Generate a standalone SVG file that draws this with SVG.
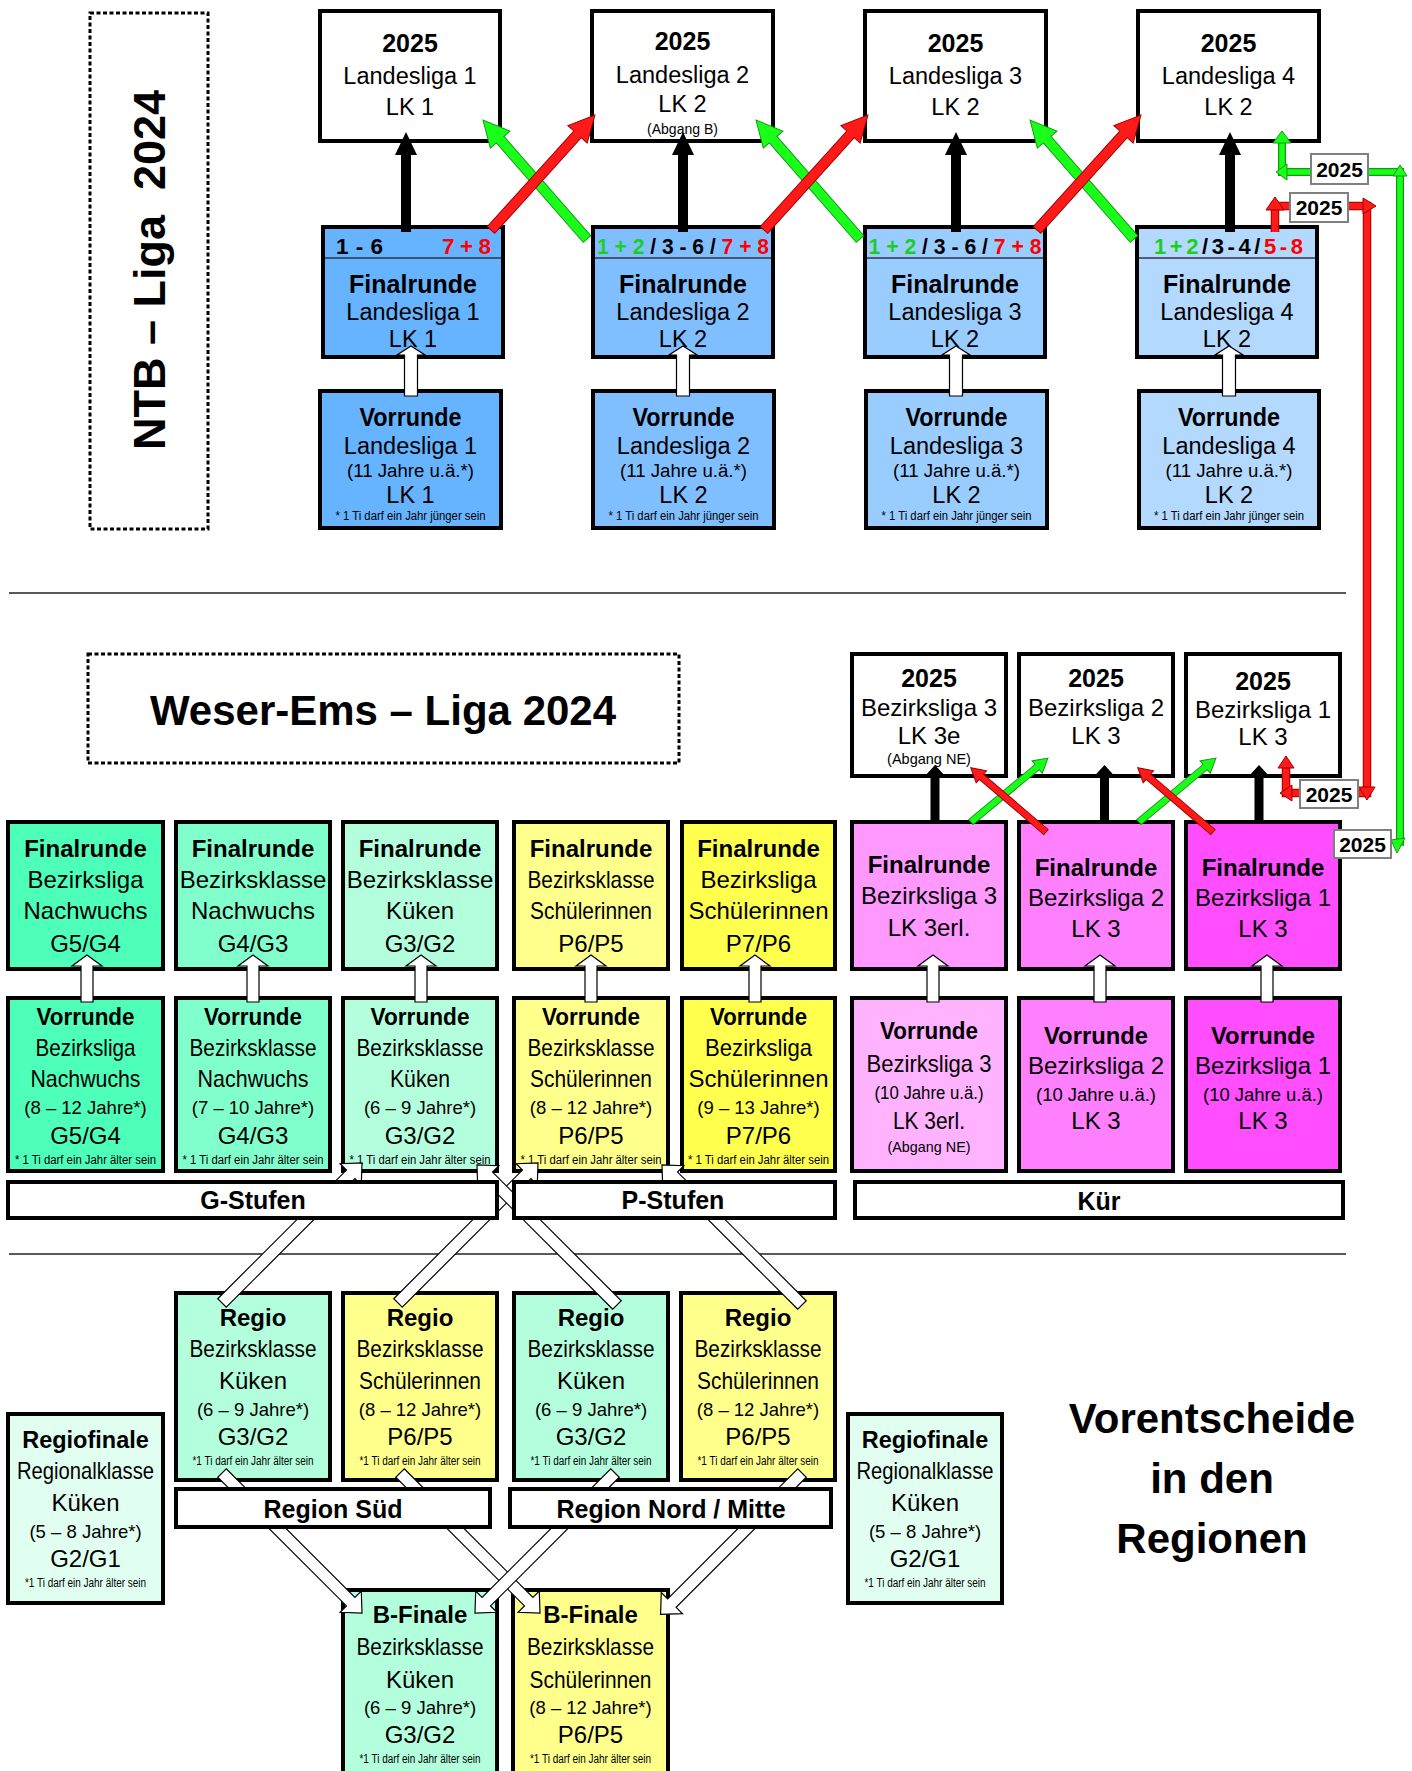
<svg xmlns="http://www.w3.org/2000/svg" width="1412" height="1771" viewBox="0 0 1412 1771">
<style>
text{font-family:"Liberation Sans",Arial,Helvetica,sans-serif;text-anchor:middle}
.b{font-weight:bold}
.l{text-anchor:start}
.r{text-anchor:end}
.red{fill:#ff0000}
.grn{fill:#1ccf1c}
.bx{stroke:#000;stroke-width:4}
.dot{fill:none;stroke:#000;stroke-width:3;stroke-dasharray:4 2.5}
.wa{fill:#fff;stroke:#000;stroke-width:1.2}
.ka{fill:#000}
.ga{fill:#1aff1a;stroke:#139a13;stroke-width:1}
.ra{fill:#ff1a1a;stroke:#a00000;stroke-width:1}
.lbl{fill:#fff;stroke:#808080;stroke-width:2}
.sep{stroke:#222;stroke-width:1.5}
.gl{fill:none;stroke:#139a13;stroke-width:8}
.gi{fill:none;stroke:#1aff1a;stroke-width:5.5}
.rl{fill:none;stroke:#a00000;stroke-width:8.5}
.ri{fill:none;stroke:#ff1a1a;stroke-width:6.5}
</style>

<!-- separators and titles -->
<g id="titles">
<line class="sep" x1="9" y1="593" x2="1346" y2="593"/>
<line class="sep" x1="9" y1="1254" x2="1346" y2="1254"/>
</g>
<g id="ntb-title">
<rect class="dot" x="90" y="13" width="118" height="516"/>
<text transform="translate(165,270) rotate(-90)" class="b" font-size="45">NTB – Liga&#160; 2024</text>
</g>
<g id="weser-ems-title">
<rect class="dot" x="88" y="654" width="591" height="109"/>
<text x="383" y="725" class="b" font-size="42">Weser-Ems – Liga 2024</text>
</g>
<g id="vorentscheide-title">
<text x="1212" y="1433" class="b" font-size="42">Vorentscheide</text>
<text x="1212" y="1493" class="b" font-size="42">in den</text>
<text x="1212" y="1553" class="b" font-size="42">Regionen</text>
</g>

<!-- NTB top row -->
<g id="ll1-2025"><rect class="bx" x="320" y="11" width="180" height="130" fill="#fff"/>
<text x="410" y="52" class="b" font-size="25">2025</text>
<text x="410" y="84" font-size="23.5">Landesliga 1</text>
<text x="410" y="115" font-size="23.5">LK 1</text></g>
<g id="ll2-2025"><rect class="bx" x="592" y="11" width="181" height="130" fill="#fff"/>
<text x="682.5" y="50" class="b" font-size="25">2025</text>
<text x="682.5" y="83" font-size="23.5">Landesliga 2</text>
<text x="682.5" y="112" font-size="23.5">LK 2</text>
<text x="682.5" y="134" font-size="14">(Abgang B)</text></g>
<g id="ll3-2025"><rect class="bx" x="865" y="11" width="181" height="130" fill="#fff"/>
<text x="955.5" y="52" class="b" font-size="25">2025</text>
<text x="955.5" y="84" font-size="23.5">Landesliga 3</text>
<text x="955.5" y="115" font-size="23.5">LK 2</text></g>
<g id="ll4-2025"><rect class="bx" x="1138" y="11" width="181" height="130" fill="#fff"/>
<text x="1228.5" y="52" class="b" font-size="25">2025</text>
<text x="1228.5" y="84" font-size="23.5">Landesliga 4</text>
<text x="1228.5" y="115" font-size="23.5">LK 2</text></g>

<g id="fr-ll1"><rect class="bx" x="323" y="227" width="180" height="130" fill="#66b3ff"/>
<line x1="325" y1="258" x2="501" y2="258" stroke="#334" stroke-width="1.5"/>
<text x="336" y="253.5" class="b l" font-size="22.5" textLength="47" lengthAdjust="spacing">1 - 6</text>
<text x="491" y="253.5" class="b r red" font-size="22.5" textLength="49" lengthAdjust="spacing">7 + 8</text>
<text x="413" y="293" class="b" font-size="25">Finalrunde</text>
<text x="413" y="320" font-size="23.5">Landesliga 1</text>
<text x="413" y="347" font-size="23.5">LK 1</text></g>
<g id="fr-ll2"><rect class="bx" x="593" y="227" width="180" height="130" fill="#80bfff"/>
<line x1="595" y1="258" x2="771" y2="258" stroke="#334" stroke-width="1.5"/>
<text x="683" y="253.5" class="b" font-size="22" textLength="172" lengthAdjust="spacingAndGlyphs"><tspan class="grn">1 + 2</tspan> / 3 - 6 / <tspan class="red">7 + 8</tspan></text>
<text x="683" y="293" class="b" font-size="25">Finalrunde</text>
<text x="683" y="320" font-size="23.5">Landesliga 2</text>
<text x="683" y="347" font-size="23.5">LK 2</text></g>
<g id="fr-ll3"><rect class="bx" x="865" y="227" width="180" height="130" fill="#99ccff"/>
<line x1="867" y1="258" x2="1043" y2="258" stroke="#334" stroke-width="1.5"/>
<text x="955" y="253.5" class="b" font-size="22" textLength="173" lengthAdjust="spacingAndGlyphs"><tspan class="grn">1 + 2</tspan> / 3 - 6 / <tspan class="red">7 + 8</tspan></text>
<text x="955" y="293" class="b" font-size="25">Finalrunde</text>
<text x="955" y="320" font-size="23.5">Landesliga 3</text>
<text x="955" y="347" font-size="23.5">LK 2</text></g>
<g id="fr-ll4"><rect class="bx" x="1137" y="227" width="180" height="130" fill="#b3d9ff"/>
<line x1="1139" y1="258" x2="1315" y2="258" stroke="#334" stroke-width="1.5"/>
<text x="1228.5" y="253.5" class="b" font-size="22" textLength="149" lengthAdjust="spacing"><tspan class="grn">1+2</tspan>/3-4/<tspan class="red">5-8</tspan></text>
<text x="1227" y="293" class="b" font-size="25">Finalrunde</text>
<text x="1227" y="320" font-size="23.5">Landesliga 4</text>
<text x="1227" y="347" font-size="23.5">LK 2</text></g>

<g id="vr-ll1"><rect class="bx" x="320" y="391" width="181" height="137" fill="#66b3ff"/>
<text x="410.5" y="426" class="b" font-size="25" textLength="102" lengthAdjust="spacingAndGlyphs">Vorrunde</text>
<text x="410.5" y="454" font-size="23.5">Landesliga 1</text>
<text x="410.5" y="477" font-size="18" textLength="127" lengthAdjust="spacingAndGlyphs">(11 Jahre u.ä.*)</text>
<text x="410.5" y="503" font-size="23.5">LK 1</text>
<text x="410.5" y="520" font-size="12.5" textLength="150" lengthAdjust="spacingAndGlyphs">* 1 Ti darf ein Jahr jünger sein</text></g>
<g id="vr-ll2"><rect class="bx" x="593" y="391" width="181" height="137" fill="#80bfff"/>
<text x="683.5" y="426" class="b" font-size="25" textLength="102" lengthAdjust="spacingAndGlyphs">Vorrunde</text>
<text x="683.5" y="454" font-size="23.5">Landesliga 2</text>
<text x="683.5" y="477" font-size="18" textLength="127" lengthAdjust="spacingAndGlyphs">(11 Jahre u.ä.*)</text>
<text x="683.5" y="503" font-size="23.5">LK 2</text>
<text x="683.5" y="520" font-size="12.5" textLength="150" lengthAdjust="spacingAndGlyphs">* 1 Ti darf ein Jahr jünger sein</text></g>
<g id="vr-ll3"><rect class="bx" x="866" y="391" width="181" height="137" fill="#99ccff"/>
<text x="956.5" y="426" class="b" font-size="25" textLength="102" lengthAdjust="spacingAndGlyphs">Vorrunde</text>
<text x="956.5" y="454" font-size="23.5">Landesliga 3</text>
<text x="956.5" y="477" font-size="18" textLength="127" lengthAdjust="spacingAndGlyphs">(11 Jahre u.ä.*)</text>
<text x="956.5" y="503" font-size="23.5">LK 2</text>
<text x="956.5" y="520" font-size="12.5" textLength="150" lengthAdjust="spacingAndGlyphs">* 1 Ti darf ein Jahr jünger sein</text></g>
<g id="vr-ll4"><rect class="bx" x="1139" y="391" width="180" height="137" fill="#b3d9ff"/>
<text x="1229" y="426" class="b" font-size="25" textLength="102" lengthAdjust="spacingAndGlyphs">Vorrunde</text>
<text x="1229" y="454" font-size="23.5">Landesliga 4</text>
<text x="1229" y="477" font-size="18" textLength="127" lengthAdjust="spacingAndGlyphs">(11 Jahre u.ä.*)</text>
<text x="1229" y="503" font-size="23.5">LK 2</text>
<text x="1229" y="520" font-size="12.5" textLength="150" lengthAdjust="spacingAndGlyphs">* 1 Ti darf ein Jahr jünger sein</text></g>

<!-- Bezirksliga Kür 2025 -->
<g id="bl3-2025"><rect class="bx" x="852" y="654" width="154" height="122" fill="#fff"/>
<text x="929" y="687" class="b" font-size="25">2025</text>
<text x="929" y="716" font-size="24">Bezirksliga 3</text>
<text x="929" y="744" font-size="24">LK 3e</text>
<text x="929" y="764" font-size="14.5">(Abgang NE)</text></g>
<g id="bl2-2025"><rect class="bx" x="1019" y="654" width="154" height="122" fill="#fff"/>
<text x="1096" y="687" class="b" font-size="25">2025</text>
<text x="1096" y="716" font-size="24">Bezirksliga 2</text>
<text x="1096" y="744" font-size="24">LK 3</text></g>
<g id="bl1-2025"><rect class="bx" x="1186" y="654" width="154" height="122" fill="#fff"/>
<text x="1263" y="690" class="b" font-size="25">2025</text>
<text x="1263" y="718" font-size="24">Bezirksliga 1</text>
<text x="1263" y="745" font-size="24">LK 3</text></g>

<!-- Finalrunde mid row -->
<g id="fr-bl-nachwuchs"><rect class="bx" x="8" y="822" width="155" height="147" fill="#4dffb8"/>
<text x="85.5" y="857" class="b" font-size="24">Finalrunde</text>
<text x="85.5" y="888" font-size="24">Bezirksliga</text>
<text x="85.5" y="919" font-size="24">Nachwuchs</text>
<text x="85.5" y="952" font-size="24">G5/G4</text></g>
<g id="fr-bk-nachwuchs"><rect class="bx" x="176" y="822" width="154" height="147" fill="#80ffcc"/>
<text x="253" y="857" class="b" font-size="24">Finalrunde</text>
<text x="253" y="888" font-size="24">Bezirksklasse</text>
<text x="253" y="919" font-size="24">Nachwuchs</text>
<text x="253" y="952" font-size="24">G4/G3</text></g>
<g id="fr-bk-kueken"><rect class="bx" x="343" y="822" width="154" height="147" fill="#b3ffdd"/>
<text x="420" y="857" class="b" font-size="24">Finalrunde</text>
<text x="420" y="888" font-size="24">Bezirksklasse</text>
<text x="420" y="919" font-size="24">Küken</text>
<text x="420" y="952" font-size="24">G3/G2</text></g>
<g id="fr-bk-schuelerinnen"><rect class="bx" x="514" y="822" width="154" height="147" fill="#ffff8c"/>
<text x="591" y="857" class="b" font-size="24">Finalrunde</text>
<text x="591" y="888" font-size="24" textLength="127" lengthAdjust="spacingAndGlyphs">Bezirksklasse</text>
<text x="591" y="919" font-size="24" textLength="122" lengthAdjust="spacingAndGlyphs">Schülerinnen</text>
<text x="591" y="952" font-size="24">P6/P5</text></g>
<g id="fr-bl-schuelerinnen"><rect class="bx" x="682" y="822" width="153" height="147" fill="#ffff4d"/>
<text x="758.5" y="857" class="b" font-size="24">Finalrunde</text>
<text x="758.5" y="888" font-size="24">Bezirksliga</text>
<text x="758.5" y="919" font-size="24">Schülerinnen</text>
<text x="758.5" y="952" font-size="24">P7/P6</text></g>
<g id="fr-bl3"><rect class="bx" x="852" y="822" width="154" height="147" fill="#ff99ff"/>
<text x="929" y="873" class="b" font-size="24">Finalrunde</text>
<text x="929" y="904" font-size="24">Bezirksliga 3</text>
<text x="929" y="936" font-size="24">LK 3erl.</text></g>
<g id="fr-bl2"><rect class="bx" x="1019" y="822" width="154" height="147" fill="#ff80ff"/>
<text x="1096" y="876" class="b" font-size="24">Finalrunde</text>
<text x="1096" y="906" font-size="24">Bezirksliga 2</text>
<text x="1096" y="937" font-size="24">LK 3</text></g>
<g id="fr-bl1"><rect class="bx" x="1186" y="822" width="154" height="147" fill="#ff4dff"/>
<text x="1263" y="876" class="b" font-size="24">Finalrunde</text>
<text x="1263" y="906" font-size="24">Bezirksliga 1</text>
<text x="1263" y="937" font-size="24">LK 3</text></g>

<!-- Vorrunde mid row -->
<g id="vr-bl-nachwuchs"><rect class="bx" x="8" y="998" width="155" height="173" fill="#4dffb8"/>
<text x="85.5" y="1025" class="b" font-size="24" textLength="98" lengthAdjust="spacingAndGlyphs">Vorrunde</text>
<text x="85.5" y="1056" font-size="24" textLength="100" lengthAdjust="spacingAndGlyphs">Bezirksliga</text>
<text x="85.5" y="1087" font-size="24" textLength="110" lengthAdjust="spacingAndGlyphs">Nachwuchs</text>
<text x="85.5" y="1114" font-size="18.5">(8 – 12 Jahre*)</text>
<text x="85.5" y="1144" font-size="24">G5/G4</text>
<text x="85.5" y="1164" font-size="12.5" textLength="141" lengthAdjust="spacingAndGlyphs">* 1 Ti darf ein Jahr älter sein</text></g>
<g id="vr-bk-nachwuchs"><rect class="bx" x="176" y="998" width="154" height="173" fill="#80ffcc"/>
<text x="253" y="1025" class="b" font-size="24" textLength="98" lengthAdjust="spacingAndGlyphs">Vorrunde</text>
<text x="253" y="1056" font-size="24" textLength="127" lengthAdjust="spacingAndGlyphs">Bezirksklasse</text>
<text x="253" y="1087" font-size="24" textLength="111" lengthAdjust="spacingAndGlyphs">Nachwuchs</text>
<text x="253" y="1114" font-size="18.5">(7 – 10 Jahre*)</text>
<text x="253" y="1144" font-size="24">G4/G3</text>
<text x="253" y="1164" font-size="12.5" textLength="141" lengthAdjust="spacingAndGlyphs">* 1 Ti darf ein Jahr älter sein</text></g>
<g id="vr-bk-kueken"><rect class="bx" x="343" y="998" width="154" height="173" fill="#b3ffdd"/>
<text x="420" y="1025" class="b" font-size="24" textLength="99" lengthAdjust="spacingAndGlyphs">Vorrunde</text>
<text x="420" y="1056" font-size="24" textLength="127" lengthAdjust="spacingAndGlyphs">Bezirksklasse</text>
<text x="420" y="1087" font-size="24" textLength="60" lengthAdjust="spacingAndGlyphs">Küken</text>
<text x="420" y="1114" font-size="18.5">(6 – 9 Jahre*)</text>
<text x="420" y="1144" font-size="24">G3/G2</text>
<text x="420" y="1164" font-size="12.5" textLength="141" lengthAdjust="spacingAndGlyphs">* 1 Ti darf ein Jahr älter sein</text></g>
<g id="vr-bk-schuelerinnen"><rect class="bx" x="514" y="998" width="154" height="173" fill="#ffff8c"/>
<text x="591" y="1025" class="b" font-size="24" textLength="98" lengthAdjust="spacingAndGlyphs">Vorrunde</text>
<text x="591" y="1056" font-size="24" textLength="127" lengthAdjust="spacingAndGlyphs">Bezirksklasse</text>
<text x="591" y="1087" font-size="24" textLength="122" lengthAdjust="spacingAndGlyphs">Schülerinnen</text>
<text x="591" y="1114" font-size="18.5">(8 – 12 Jahre*)</text>
<text x="591" y="1144" font-size="24">P6/P5</text>
<text x="591" y="1164" font-size="12.5" textLength="141" lengthAdjust="spacingAndGlyphs">* 1 Ti darf ein Jahr älter sein</text></g>
<g id="vr-bl-schuelerinnen"><rect class="bx" x="682" y="998" width="153" height="173" fill="#ffff4d"/>
<text x="758.5" y="1025" class="b" font-size="24" textLength="97" lengthAdjust="spacingAndGlyphs">Vorrunde</text>
<text x="758.5" y="1056" font-size="24" textLength="107" lengthAdjust="spacingAndGlyphs">Bezirksliga</text>
<text x="758.5" y="1087" font-size="24">Schülerinnen</text>
<text x="758.5" y="1114" font-size="18.5">(9 – 13 Jahre*)</text>
<text x="758.5" y="1144" font-size="24">P7/P6</text>
<text x="758.5" y="1164" font-size="12.5" textLength="141" lengthAdjust="spacingAndGlyphs">* 1 Ti darf ein Jahr älter sein</text></g>
<g id="vr-bl3"><rect class="bx" x="852" y="998" width="154" height="173" fill="#ffb3ff"/>
<text x="929" y="1039" class="b" font-size="24" textLength="98" lengthAdjust="spacingAndGlyphs">Vorrunde</text>
<text x="929" y="1072" font-size="24" textLength="125" lengthAdjust="spacingAndGlyphs">Bezirksliga 3</text>
<text x="929" y="1099" font-size="17.5" textLength="109" lengthAdjust="spacingAndGlyphs">(10 Jahre u.ä.)</text>
<text x="929" y="1129" font-size="24" textLength="72" lengthAdjust="spacingAndGlyphs">LK 3erl.</text>
<text x="929" y="1152" font-size="15" textLength="83" lengthAdjust="spacingAndGlyphs">(Abgang NE)</text></g>
<g id="vr-bl2"><rect class="bx" x="1019" y="998" width="154" height="173" fill="#ff80ff"/>
<text x="1096" y="1044" class="b" font-size="24" textLength="104" lengthAdjust="spacingAndGlyphs">Vorrunde</text>
<text x="1096" y="1074" font-size="24">Bezirksliga 2</text>
<text x="1096" y="1101" font-size="17.5" textLength="120" lengthAdjust="spacingAndGlyphs">(10 Jahre u.ä.)</text>
<text x="1096" y="1129" font-size="24">LK 3</text></g>
<g id="vr-bl1"><rect class="bx" x="1186" y="998" width="154" height="173" fill="#ff4dff"/>
<text x="1263" y="1044" class="b" font-size="24" textLength="104" lengthAdjust="spacingAndGlyphs">Vorrunde</text>
<text x="1263" y="1074" font-size="24">Bezirksliga 1</text>
<text x="1263" y="1101" font-size="17.5" textLength="120" lengthAdjust="spacingAndGlyphs">(10 Jahre u.ä.)</text>
<text x="1263" y="1129" font-size="24">LK 3</text></g>

<!-- Regio boxes -->
<g id="regio-sued-kueken"><rect class="bx" x="176" y="1293" width="154" height="187" fill="#b3ffdd"/>
<text x="253" y="1326" class="b" font-size="24">Regio</text>
<text x="253" y="1357" font-size="24" textLength="127" lengthAdjust="spacingAndGlyphs">Bezirksklasse</text>
<text x="253" y="1389" font-size="24">Küken</text>
<text x="253" y="1416" font-size="18.5">(6 – 9 Jahre*)</text>
<text x="253" y="1445" font-size="24">G3/G2</text>
<text x="253" y="1465" font-size="12" textLength="121" lengthAdjust="spacingAndGlyphs">*1 Ti darf ein Jahr älter sein</text></g>
<g id="regio-sued-schuelerinnen"><rect class="bx" x="343" y="1293" width="154" height="187" fill="#ffff8c"/>
<text x="420" y="1326" class="b" font-size="24">Regio</text>
<text x="420" y="1357" font-size="24" textLength="127" lengthAdjust="spacingAndGlyphs">Bezirksklasse</text>
<text x="420" y="1389" font-size="24" textLength="122" lengthAdjust="spacingAndGlyphs">Schülerinnen</text>
<text x="420" y="1416" font-size="18.5">(8 – 12 Jahre*)</text>
<text x="420" y="1445" font-size="24">P6/P5</text>
<text x="420" y="1465" font-size="12" textLength="121" lengthAdjust="spacingAndGlyphs">*1 Ti darf ein Jahr älter sein</text></g>
<g id="regio-nord-kueken"><rect class="bx" x="514" y="1293" width="154" height="187" fill="#b3ffdd"/>
<text x="591" y="1326" class="b" font-size="24">Regio</text>
<text x="591" y="1357" font-size="24" textLength="127" lengthAdjust="spacingAndGlyphs">Bezirksklasse</text>
<text x="591" y="1389" font-size="24">Küken</text>
<text x="591" y="1416" font-size="18.5">(6 – 9 Jahre*)</text>
<text x="591" y="1445" font-size="24">G3/G2</text>
<text x="591" y="1465" font-size="12" textLength="121" lengthAdjust="spacingAndGlyphs">*1 Ti darf ein Jahr älter sein</text></g>
<g id="regio-nord-schuelerinnen"><rect class="bx" x="681" y="1293" width="154" height="187" fill="#ffff8c"/>
<text x="758" y="1326" class="b" font-size="24">Regio</text>
<text x="758" y="1357" font-size="24" textLength="127" lengthAdjust="spacingAndGlyphs">Bezirksklasse</text>
<text x="758" y="1389" font-size="24" textLength="122" lengthAdjust="spacingAndGlyphs">Schülerinnen</text>
<text x="758" y="1416" font-size="18.5">(8 – 12 Jahre*)</text>
<text x="758" y="1445" font-size="24">P6/P5</text>
<text x="758" y="1465" font-size="12" textLength="121" lengthAdjust="spacingAndGlyphs">*1 Ti darf ein Jahr älter sein</text></g>

<g id="regiofinale-sued"><rect class="bx" x="8" y="1414" width="155" height="189" fill="#e0fff0"/>
<text x="85.5" y="1448" class="b" font-size="23.5">Regiofinale</text>
<text x="85.5" y="1479" font-size="24" textLength="137" lengthAdjust="spacingAndGlyphs">Regionalklasse</text>
<text x="85.5" y="1511" font-size="24">Küken</text>
<text x="85.5" y="1538" font-size="18.5">(5 – 8 Jahre*)</text>
<text x="85.5" y="1567" font-size="24">G2/G1</text>
<text x="85.5" y="1587" font-size="12" textLength="121" lengthAdjust="spacingAndGlyphs">*1 Ti darf ein Jahr älter sein</text></g>
<g id="regiofinale-nord"><rect class="bx" x="848" y="1414" width="154" height="189" fill="#e0fff0"/>
<text x="925" y="1448" class="b" font-size="23.5">Regiofinale</text>
<text x="925" y="1479" font-size="24" textLength="137" lengthAdjust="spacingAndGlyphs">Regionalklasse</text>
<text x="925" y="1511" font-size="24">Küken</text>
<text x="925" y="1538" font-size="18.5">(5 – 8 Jahre*)</text>
<text x="925" y="1567" font-size="24">G2/G1</text>
<text x="925" y="1587" font-size="12" textLength="121" lengthAdjust="spacingAndGlyphs">*1 Ti darf ein Jahr älter sein</text></g>

<g id="bfinale-kueken"><rect class="bx" x="343" y="1590" width="154" height="190" fill="#b3ffdd"/>
<text x="420" y="1623" class="b" font-size="24">B-Finale</text>
<text x="420" y="1655" font-size="24" textLength="127" lengthAdjust="spacingAndGlyphs">Bezirksklasse</text>
<text x="420" y="1688" font-size="24">Küken</text>
<text x="420" y="1714" font-size="18.5">(6 – 9 Jahre*)</text>
<text x="420" y="1743" font-size="24">G3/G2</text>
<text x="420" y="1763" font-size="12" textLength="121" lengthAdjust="spacingAndGlyphs">*1 Ti darf ein Jahr älter sein</text></g>
<g id="bfinale-schuelerinnen"><rect class="bx" x="513" y="1590" width="155" height="190" fill="#ffff8c"/>
<text x="590.5" y="1623" class="b" font-size="24">B-Finale</text>
<text x="590.5" y="1655" font-size="24" textLength="127" lengthAdjust="spacingAndGlyphs">Bezirksklasse</text>
<text x="590.5" y="1688" font-size="24" textLength="122" lengthAdjust="spacingAndGlyphs">Schülerinnen</text>
<text x="590.5" y="1714" font-size="18.5">(8 – 12 Jahre*)</text>
<text x="590.5" y="1743" font-size="24">P6/P5</text>
<text x="590.5" y="1763" font-size="12" textLength="121" lengthAdjust="spacingAndGlyphs">*1 Ti darf ein Jahr älter sein</text></g>

<!-- connectors -->
<g id="connectors">
<!-- black up arrows top -->
<polygon class="ka" points="401,232 401,155 395,155 406,132 417,155 411,155 411,232"/>
<polygon class="ka" points="678,232 678,155 672,155 683,132 694,155 688,155 688,232"/>
<polygon class="ka" points="951,232 951,155 945,155 956,132 967,155 961,155 961,232"/>
<polygon class="ka" points="1225,232 1225,155 1219,155 1230,132 1241,155 1235,155 1235,232"/>
<!-- white up arrows top -->
<polygon class="wa" points="404.5,396 404.5,355 397,355 411,346 425,355 417.5,355 417.5,396"/>
<polygon class="wa" points="676.5,396 676.5,355 669,355 683,346 697,355 689.5,355 689.5,396"/>
<polygon class="wa" points="949.5,396 949.5,355 942,355 956,346 970,355 962.5,355 962.5,396"/>
<polygon class="wa" points="1222.5,396 1222.5,355 1215,355 1229,346 1243,355 1235.5,355 1235.5,396"/>
<!-- green top -->
<polygon class="ga" transform="translate(587,239) rotate(-131.15)" points="0,-5 132,-5 132,-13 158,0 132,13 132,5 0,5"/>
<polygon class="ga" transform="translate(860,239) rotate(-131.15)" points="0,-5 132,-5 132,-13 158,0 132,13 132,5 0,5"/>
<polygon class="ga" transform="translate(1134,239) rotate(-131.15)" points="0,-5 132,-5 132,-13 158,0 132,13 132,5 0,5"/>
<!-- red top -->
<polygon class="ra" transform="translate(491,230) rotate(-47.88)" points="0,-5 129,-5 129,-13 155,0 129,13 129,5 0,5"/>
<polygon class="ra" transform="translate(764,230) rotate(-47.88)" points="0,-5 129,-5 129,-13 155,0 129,13 129,5 0,5"/>
<polygon class="ra" transform="translate(1037,230) rotate(-47.88)" points="0,-5 129,-5 129,-13 155,0 129,13 129,5 0,5"/>

<!-- black up arrows mid -->
<polygon class="ka" points="930.5,824 930.5,777 924,777 935,765 946,777 939.5,777 939.5,824"/>
<polygon class="ka" points="1100,824 1100,777 1093.5,777 1104.5,765 1115.5,777 1109,777 1109,824"/>
<polygon class="ka" points="1254.5,824 1254.5,777 1248,777 1259,765 1270,777 1263.5,777 1263.5,824"/>
<!-- green / red mid -->
<polygon class="ga" transform="translate(971,822) rotate(-39.7)" points="0,-3.3 86,-3.3 86,-8 100,0 86,8 86,3.3 0,3.3"/>
<polygon class="ga" transform="translate(1139,822) rotate(-39.7)" points="0,-3.3 86,-3.3 86,-8 100,0 86,8 86,3.3 0,3.3"/>
<polygon class="ra" transform="translate(1046,832) rotate(-139.5)" points="0,-3.3 85,-3.3 85,-8 99,0 85,8 85,3.3 0,3.3"/>
<polygon class="ra" transform="translate(1213,832) rotate(-139.5)" points="0,-3.3 85,-3.3 85,-8 99,0 85,8 85,3.3 0,3.3"/>

<!-- white up arrows mid -->
<polygon class="wa" points="81,1002 81,966 72,966 87,955 102,966 93,966 93,1002"/>
<polygon class="wa" points="247,1002 247,966 238,966 253,955 268,966 259,966 259,1002"/>
<polygon class="wa" points="415,1002 415,966 406,966 421,955 436,966 427,966 427,1002"/>
<polygon class="wa" points="585,1002 585,966 576,966 591,955 606,966 597,966 597,1002"/>
<polygon class="wa" points="749,1002 749,966 740,966 755,955 770,966 761,966 761,1002"/>
<polygon class="wa" points="927,1002 927,966 918,966 933,955 948,966 939,966 939,1002"/>
<polygon class="wa" points="1094,1002 1094,966 1085,966 1100,955 1115,966 1106,966 1106,1002"/>
<polygon class="wa" points="1261,1002 1261,966 1252,966 1267,955 1282,966 1273,966 1273,1002"/>

<!-- white diagonals: Regio up to Vorrunde -->
<polygon class="wa" transform="translate(222,1303) rotate(-45)" points="0,-6 182,-6 182,-15 198,0 182,15 182,6 0,6"/>
<polygon class="wa" transform="translate(398,1303) rotate(-45)" points="0,-6 182,-6 182,-15 198,0 182,15 182,6 0,6"/>
<polygon class="wa" transform="translate(617,1305) rotate(-135)" points="0,-6 182,-6 182,-15 198,0 182,15 182,6 0,6"/>
<polygon class="wa" transform="translate(802,1305) rotate(-135)" points="0,-6 182,-6 182,-15 198,0 182,15 182,6 0,6"/>
<!-- white diagonals: Regio down to B-Finale -->
<polygon class="wa" transform="translate(222,1473) rotate(45)" points="0,-6 182,-6 182,-15 198,0 182,15 182,6 0,6"/>
<polygon class="wa" transform="translate(400,1473) rotate(45)" points="0,-6 182,-6 182,-15 198,0 182,15 182,6 0,6"/>
<polygon class="wa" transform="translate(615,1473) rotate(135)" points="0,-6 182,-6 182,-15 198,0 182,15 182,6 0,6"/>
<polygon class="wa" transform="translate(802,1473) rotate(135)" points="0,-6 184,-6 184,-15 200,0 184,15 184,6 0,6"/>

<!-- right side elbow connectors -->
<polyline class="gl" points="1282,140 1282,172 1400,172 1400,846"/>
<polyline class="gi" points="1282,140 1282,172 1400,172 1400,846"/>
<polygon class="ga" points="1282,131 1273,143 1291,143"/>
<polygon class="ga" points="1276,172 1287,164 1287,180"/>
<polygon class="ga" points="1400,165 1393,176 1407,176"/>
<polygon class="ga" points="1397,853 1391,840 1405,838"/>
<polyline class="rl" points="1275,232 1275,206 1367,206 1367,793 1286,793 1286,766"/>
<polyline class="ri" points="1275,232 1275,206 1367,206 1367,793 1286,793 1286,766"/>
<polygon class="ra" points="1275,197 1266,210 1284,210"/>
<polygon class="ra" points="1376,206 1363,198 1363,214"/>
<polygon class="ra" points="1367,800 1359,787 1375,787"/>
<polygon class="ra" points="1280,793 1292,785 1292,801"/>
<polygon class="ra" points="1286,756 1278,768 1294,768"/>
</g>

<!-- bars (drawn over connectors) -->
<g id="g-stufen"><rect class="bx" x="8" y="1182" width="489" height="36" fill="#fff"/>
<text x="253" y="1209" class="b" font-size="25">G-Stufen</text></g>
<g id="p-stufen"><rect class="bx" x="514" y="1182" width="321" height="36" fill="#fff"/>
<text x="673" y="1209" class="b" font-size="25">P-Stufen</text></g>
<g id="kuer"><rect class="bx" x="855" y="1182" width="488" height="36" fill="#fff"/>
<text x="1099" y="1210" class="b" font-size="25">Kür</text></g>
<g id="region-sued"><rect class="bx" x="176" y="1489" width="314" height="38" fill="#fff"/>
<text x="333" y="1518" class="b" font-size="25">Region Süd</text></g>
<g id="region-nord-mitte"><rect class="bx" x="510" y="1489" width="321" height="38" fill="#fff"/>
<text x="671" y="1518" class="b" font-size="25">Region Nord / Mitte</text></g>

<!-- 2025 labels on right connectors -->
<g id="label-green-top"><rect class="lbl" x="1311" y="154" width="57" height="30"/>
<text x="1339.5" y="177" class="b" font-size="21">2025</text></g>
<g id="label-red-top"><rect class="lbl" x="1290" y="193" width="58" height="29"/>
<text x="1319" y="215" class="b" font-size="21">2025</text></g>
<g id="label-red-bottom"><rect class="lbl" x="1300" y="780" width="58" height="28"/>
<text x="1329" y="802" class="b" font-size="21">2025</text></g>
<g id="label-green-bottom"><rect class="lbl" x="1334" y="830" width="57" height="28"/>
<text x="1362.5" y="852" class="b" font-size="21">2025</text></g>
</svg>
